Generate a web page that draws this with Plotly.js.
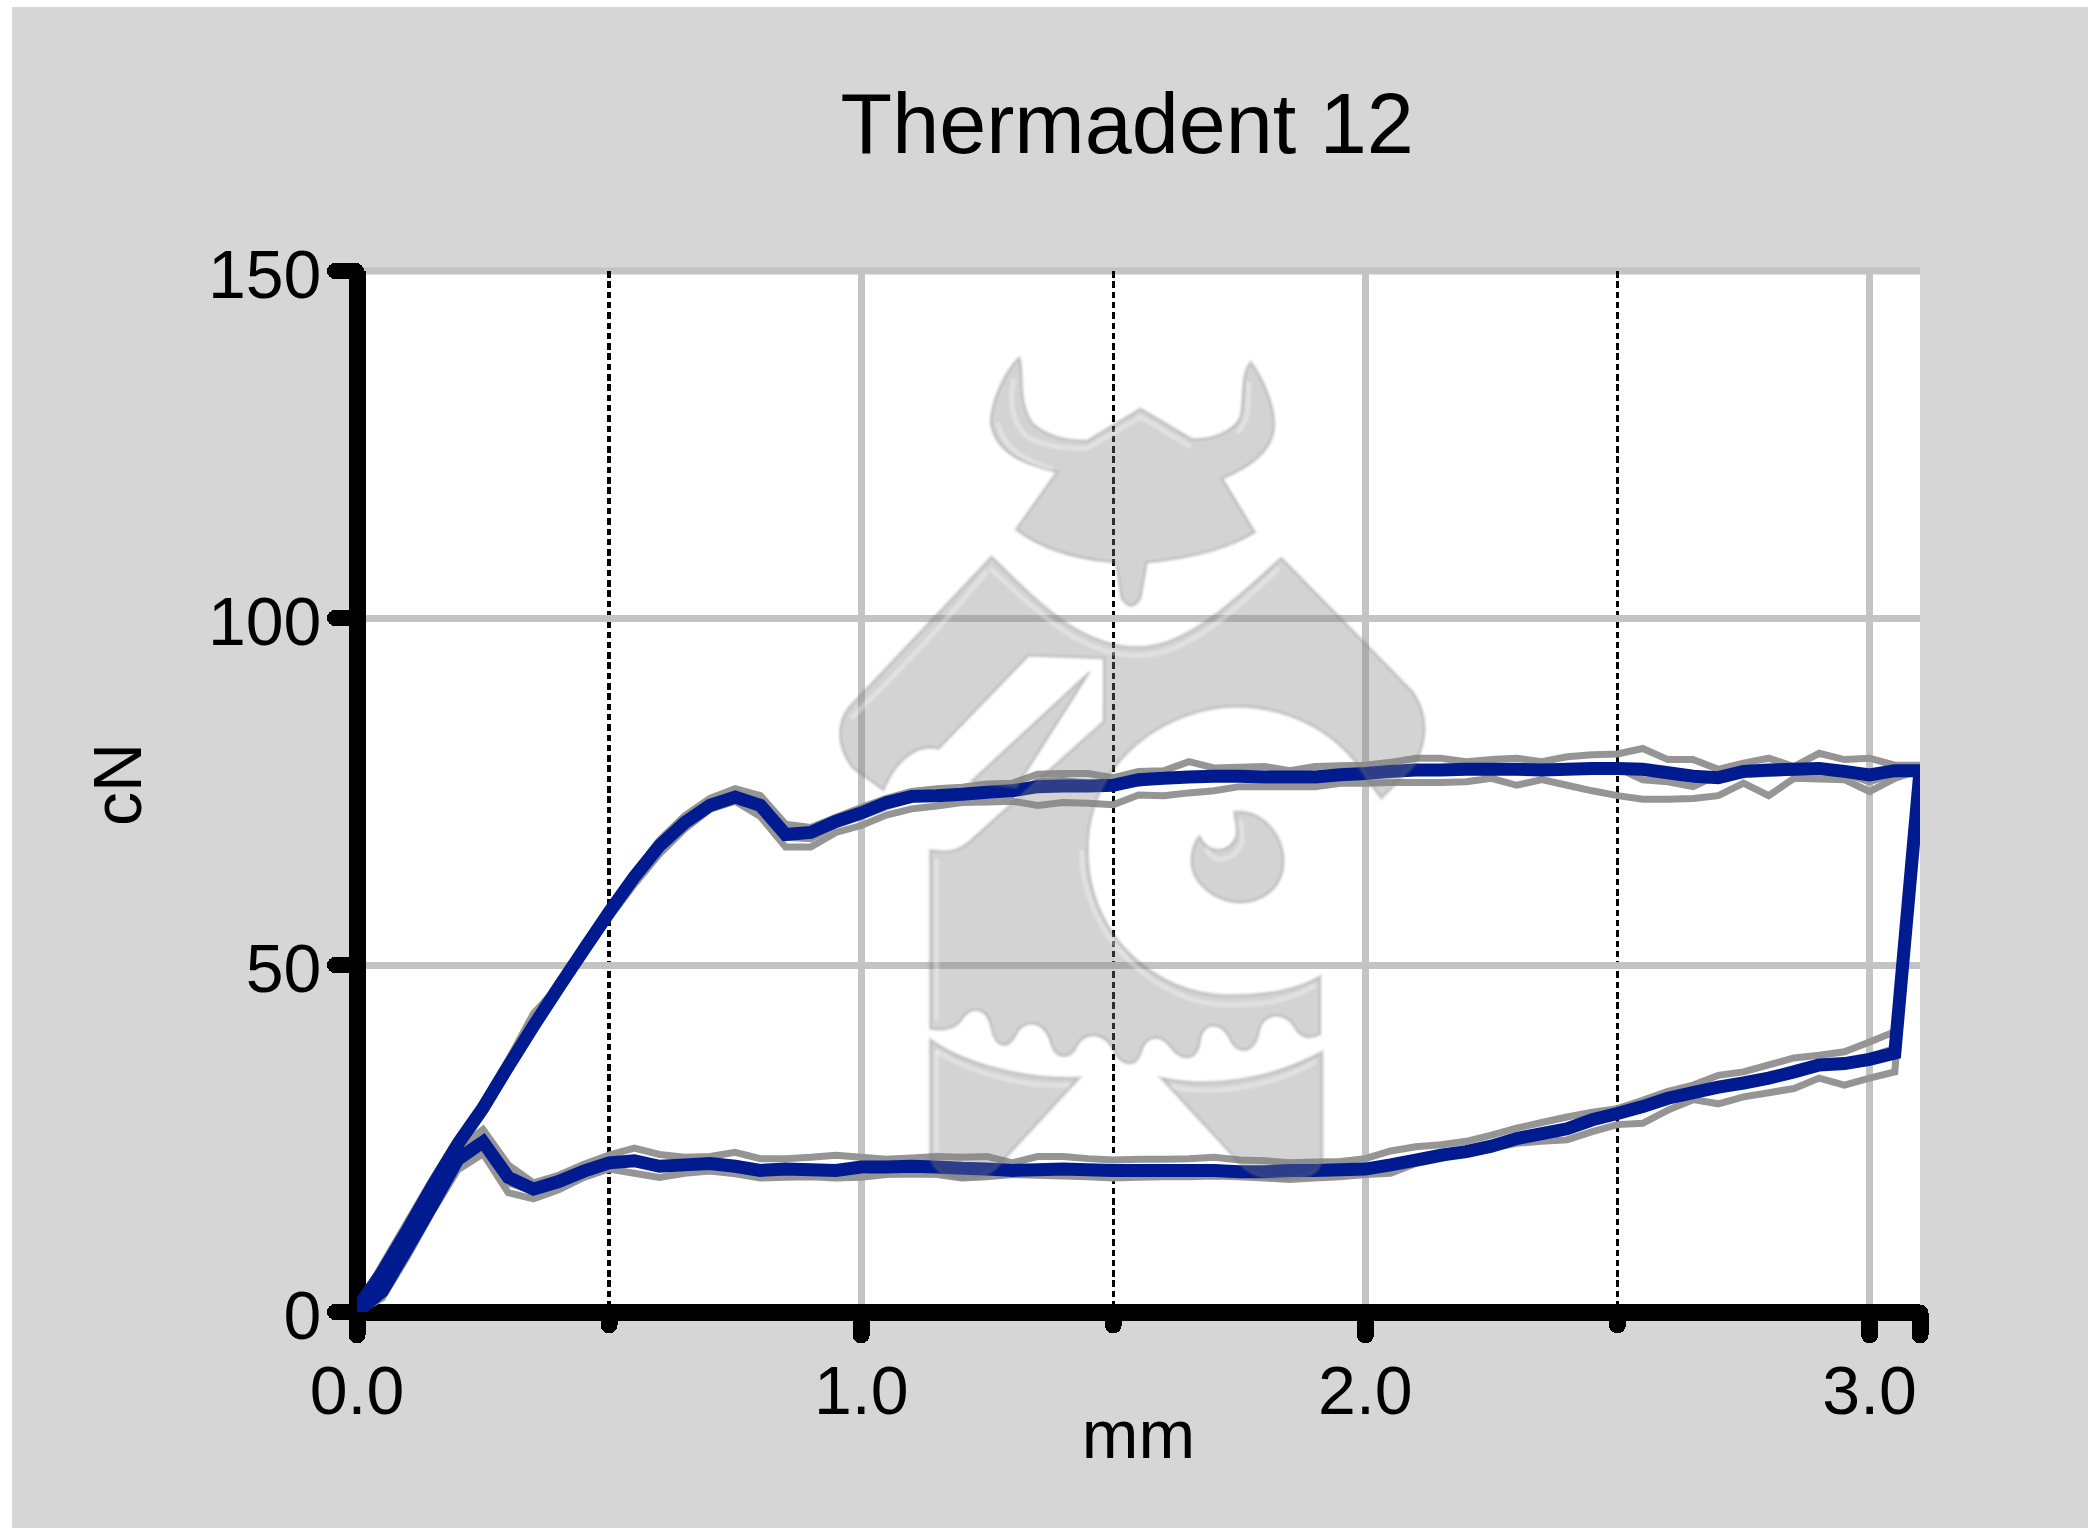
<!DOCTYPE html>
<html><head><meta charset="utf-8">
<script src="https://cdn.plot.ly/plotly-3.0.1.min.js"></script>
<style>
html,body{margin:0;padding:0;background:#fff;overflow:hidden}
#c{position:absolute;left:12px;top:7px;width:2076px;height:1521px}
.ticks{stroke-linecap:round}
.js-line{stroke-linejoin:miter !important}
.layer-above .shapelayer path{filter:blur(1px)}
.g-ytitle{transform:translateY(-7px)}
.g-xtitle{transform:translateY(-17px)}
</style></head><body><div id="c"></div>
<script>
const chartTitle = 'Thermadent 12';
const xLabel = 'mm', yLabel = 'cN';
const xMajor = [0,1,2,3,3.1], xMajorText = ['0.0','1.0','2.0','3.0',''];
const xMinor = [0.5,1.5,2.5];
const yMajor = [0,50,100,150];

const xLoad = [
 0,.05,.1,.15,.2,.25,.3,.35,.4,.45,
 .5,.55,.6,.65,.7,.75,.8,.85,.9,.95,
 1,1.05,1.1,1.15,1.2,1.25,1.3,1.35,1.4,1.45,
 1.5,1.55,1.6,1.65,1.7,1.75,1.8,1.85,1.9,1.95,
 2,2.05,2.1,2.15,2.2,2.25,2.3,2.35,2.4,2.45,
 2.5,2.55,2.6,2.65,2.7,2.75,2.8,2.85,2.9,2.95,
 3,3.05,3.1];
const xUnload = [
 3.05,3,2.95,2.9,2.85,2.8,2.75,2.7,2.65,2.6,
 2.55,2.5,2.45,2.4,2.35,2.3,2.25,2.2,2.15,2.1,
 2.05,2,1.95,1.9,1.85,1.8,1.75,1.7,1.65,1.6,
 1.55,1.5,1.45,1.4,1.35,1.3,1.25,1.2,1.15,1.1,
 1.05,1,.95,.9,.85,.8,.75,.7,.65,.6,
 .55,.5,.45,.4,.35,.3,.25,.2,.15,.1,
 .05,0];

const meanLoad = [
 .5,5.7,11.8,18.2,24.2,29.4,35.4,41.2,46.8,52.2,
 57.6,62.7,67.2,70.5,73,74.2,73,68.8,69.1,70.7,
 71.9,73.4,74.3,74.4,74.6,74.9,75.1,75.7,75.8,75.8,
 75.9,76.7,76.9,77.1,77.2,77.2,77.1,77.1,77.1,77.4,
 77.6,77.9,78.1,78.1,78.2,78.2,78.2,78.1,78.2,78.3,
 78.3,78.2,77.7,77.2,77,77.9,78.1,78.2,78.3,77.9,
 77.4,78,78];
const meanUnload = [
 37.3,36.4,35.8,35.6,34.6,33.7,33,32.4,31.6,30.8,
 29.6,28.6,27.7,26.4,25.7,25,23.9,23.1,22.6,21.9,
 21.2,20.6,20.5,20.4,20.4,20.2,20.2,20.4,20.4,20.4,
 20.4,20.4,20.5,20.6,20.5,20.4,20.6,20.7,20.9,21,
 20.9,20.9,20.4,20.5,20.6,20.4,21,21.4,21.2,21,
 21.8,21.5,20.3,18.8,17.7,19.4,24.5,22,15.5,9.2,
 3,0];

const run1Load = [
 .5,6.8,13,19.2,25,30.2,36.3,43,47,53,
 58,63.2,68,71.5,74,75.4,74.4,70.3,69.8,71.3,
 72.7,74,75,75.4,75.6,76.1,76.2,77.5,77.6,77.6,
 77,77.9,78,79.3,78.4,78.5,78.6,78,78.6,78.7,
 78.8,79.2,79.8,79.8,79.3,79.6,79.8,79.3,80,80.3,
 80.4,81.2,79.6,79.6,78.2,79.1,79.8,78.6,80.5,79.6,
 79.8,78.8,78.8];
const run1Unload = [
 40.4,38.9,37.5,37,36.6,35.6,34.6,34.1,32.7,31.8,
 30.5,29.3,28.8,28.1,27.3,26.5,25.5,24.6,24.1,23.8,
 23.2,22.1,21.7,21.6,21.5,21.8,21.9,22.3,22.1,22,
 22,21.9,22.1,22.4,22.4,21.5,22.4,22.3,22.4,22.2,
 22,22.3,22.6,22.3,22.1,22.1,23,22.4,22.3,22.7,
 23.6,22.6,21.3,19.7,18.6,21.2,26.3,23.5,16.5,10,
 3.8,0];

const run2Load = [
 0,4.6,10.8,17.2,23.4,28.6,34.8,40.6,46,51.6,
 56.8,61.6,66,69.6,72.4,73.6,71.4,67,67,69.1,
 70.1,71.6,72.5,72.9,73.4,73.5,73.6,73,73.4,73.3,
 73.1,74.5,74.4,74.8,75.1,75.7,75.7,75.7,75.7,76.2,
 76.2,76.3,76.3,76.3,76.4,76.9,75.9,76.7,75.9,75.1,
 74.4,73.9,73.9,74,74.4,76.2,74.4,76.9,76.8,76.7,
 75,76.9,78.1];
const run2Unload = [
 34.6,33.7,32.7,33.7,32.2,31.6,31,30,30.6,29.1,
 27.2,27,26,24.8,24.6,24.3,23.6,23.1,22.1,21.4,
 20,19.8,19.5,19.3,19.1,19.3,19.5,19.6,19.5,19.5,
 19.4,19.3,19.5,19.6,19.7,19.8,19.5,19.3,19.8,19.9,
 19.8,19.4,19.3,19.5,19.4,19.3,19.9,20.3,20,19.4,
 20,20.6,19.4,17.6,16.3,17.2,22.8,20.5,14.5,8,
 2,0];

const run3Load = [
 .2,5.4,11.6,18,24,29.2,35.4,41.8,46.8,52.2,
 57.4,62.7,67,70.2,72.8,74.6,73.2,68.4,68.2,70.2,
 71.4,72.8,73.9,74.2,74.8,75,74.6,76.4,76.6,76.2,
 75.6,76.2,76.7,76.8,77,76.9,77.2,76.8,76.9,77.2,
 77.5,77.4,77.8,77.8,78,77.7,78.6,78,78.4,78.6,
 78.4,76.7,76.4,75.7,77.4,77.4,77.6,77.8,78,77.6,
 76.4,77.6,78.2];
const run3Unload = [
 38,36.8,36,35.8,34.8,33.6,32.8,32.2,31.4,30.6,
 29.2,28.4,27.4,26.4,25.6,25.2,24,23.4,22.8,21.8,
 21,20.6,20.6,20.4,20.2,20.4,20.4,20.6,20.2,20.2,
 20.6,20.6,20.4,20.8,20.6,20.6,20.4,20.4,20.8,20.9,
 20.8,20.9,20.6,20.3,20.6,20.6,20.8,21.2,20.9,21.2,
 21.6,21.3,20.2,18.6,17.4,18.6,25,21.6,15,8.8,
 2.6,0];

// Watermark outline, traced in a 1568-unit frame over the plot
const logoFill = [
 'M488,32 C500,60 482,110 520,152 C560,178 610,184 655,183 L785,125 L910,180 C960,184 1015,165 1030,140 C1040,110 1030,60 1055,40 C1085,70 1115,120 1112,160 C1105,205 1050,232 985,252 L1065,350 C1000,380 900,398 800,405 L785,470 Q762,498 738,470 L725,405 C640,400 550,385 480,345 L580,240 C510,228 430,210 418,150 C420,105 460,50 488,32 Z',
 'M420,395 C500,450 620,560 780,560 C900,560 1020,470 1130,397 L1450,640 C1490,680 1490,730 1455,775 L1375,835 L1340,800 C1270,710 1140,668 1020,668 C860,668 655,760 655,930 C655,1090 830,1195 1000,1195 C1090,1195 1170,1185 1225,1160 L1225,1265 Q1185,1280 1165,1255 C1140,1220 1085,1225 1075,1260 C1065,1300 1025,1305 1005,1275 C985,1240 935,1240 930,1280 C920,1320 880,1310 860,1290 C830,1260 795,1270 785,1300 C770,1330 735,1320 720,1295 C695,1260 650,1260 630,1285 C610,1315 575,1310 565,1280 C550,1240 500,1235 480,1265 C460,1295 430,1290 420,1255 C410,1215 370,1210 345,1240 Q325,1262 270,1255 L270,930 C310,935 340,935 380,905 L695,695 L695,580 L510,575 L290,745 C250,735 190,755 155,820 L80,780 C40,740 40,700 70,670 Z',
 'M660,605 L370,805 L480,815 Z',
 'M930,905 C945,935 1000,940 1020,905 C1025,885 1015,870 1015,860 C1080,855 1135,900 1135,950 C1135,1000 1080,1025 1030,1025 C970,1025 910,990 910,950 C910,930 920,910 930,905 Z',
 'M270,1275 C330,1310 480,1350 635,1345 L430,1510 C400,1530 340,1535 300,1520 C280,1510 270,1495 270,1480 Z',
 'M835,1345 C950,1365 1100,1350 1230,1298 L1230,1490 C1225,1520 1200,1528 1130,1530 C1090,1530 1060,1522 1040,1510 Z'];
const logoGlints = [
 'M475,70 C462,110 470,150 505,175 C550,195 610,198 655,197 L785,140 L910,195',
 'M435,150 C450,200 500,218 570,235',
 'M1050,75 C1050,120 1050,150 1020,170',
 'M415,415 C500,470 620,575 780,575 C900,575 1020,490 1125,415',
 'M290,755 L515,590 L680,590',
 'M75,690 C200,600 300,520 410,420',
 'M285,945 L285,1240',
 'M1215,1175 C1150,1205 1090,1212 1000,1212 C830,1212 640,1090 640,930',
 'M285,1295 C340,1325 480,1365 610,1358',
 'M285,1295 L285,1480',
 'M860,1360 C950,1378 1100,1365 1215,1315',
 'M945,925 C960,955 1010,955 1035,915 L1030,875'];
const frameX = v => (820 + v/2.45 - 356.7)/1563.3;
const frameY = v => (1312 - (340 + v/1.823))/1041.3;
const toPaper = p => p.replace(/(-?[\d.]+),(-?[\d.]+)/g,(m,a,b)=>frameX(+a).toFixed(5)+','+frameY(+b).toFixed(5));

const logoShapes = [
 {type:'line',xref:'paper',yref:'paper',x0:0,x1:1,y0:1,y1:1,layer:'below',line:{color:'#c3c3c3',width:7}},
 ...logoFill.map(p=>({type:'path',xref:'paper',yref:'paper',layer:'above',path:toPaper(p),
   fillcolor:'rgba(129,129,129,0.35)',line:{color:'rgba(120,120,120,0.28)',width:3}})),
 ...logoGlints.map(p=>({type:'path',xref:'paper',yref:'paper',layer:'above',path:toPaper(p),
   fillcolor:'rgba(0,0,0,0)',line:{color:'rgba(255,255,255,0.32)',width:5}}))
];

const GRAY='#959595', BLUE='#001a8f';
const trace=(x,y,color,width)=>({x,y,type:'scatter',mode:'lines',cliponaxis:false,hoverinfo:'skip',showlegend:false,
  line:{color,width,shape:'linear',simplify:false}});
const loop=(a,b)=>a.concat(b);
const data=[
 trace(loop(xLoad,xUnload),loop(run1Load,run1Unload),GRAY,7),
 trace(loop(xLoad,xUnload),loop(run2Load,run2Unload),GRAY,7),
 trace(loop(xLoad,xUnload),loop(run3Load,run3Unload),GRAY,7),
 trace(loop(xLoad,xUnload),loop(meanLoad,meanUnload),BLUE,13)
];
const FONT='"Liberation Sans",Arial,sans-serif';
const layout={
 width:2076,height:1521,
 paper_bgcolor:'#d6d6d6',plot_bgcolor:'#ffffff',
 margin:{l:344.7,r:168,t:263.7,b:216,pad:0},
 showlegend:false,
 font:{family:FONT,color:'#000'},
 title:{text:chartTitle,font:{family:FONT,size:84.5,color:'#000'},xref:'paper',x:(1127-356.7)/1563.3,xanchor:'center',
        yref:'container',y:1-(123-7)/1521,yanchor:'middle'},
 xaxis:{range:[0,3.1],tickmode:'array',tickvals:xMajor,ticktext:xMajorText,automargin:true,
   showline:false,zeroline:true,zerolinecolor:'#000',zerolinewidth:17,
   showgrid:true,gridcolor:'#c3c3c3',gridwidth:7,
   ticks:'outside',ticklen:22,tickwidth:17,tickcolor:'#000',
   tickfont:{family:FONT,size:68,color:'#000'},ticklabelstandoff:-3,layer:'below traces',
   minor:{tickmode:'array',tickvals:xMinor,ticks:'outside',ticklen:12,tickwidth:17,tickcolor:'#000',
     showgrid:true,gridcolor:'#000',gridwidth:3.5,griddash:'6.5px,3.8px'},
   title:{text:xLabel,font:{family:FONT,size:68,color:'#000'},standoff:0}},
 yaxis:{range:[0,150],tickmode:'array',tickvals:yMajor,automargin:true,
   showline:false,zeroline:true,zerolinecolor:'#000',zerolinewidth:17,
   showgrid:true,gridcolor:'#c3c3c3',gridwidth:7,
   ticks:'outside',ticklen:21,tickwidth:16,tickcolor:'#000',
   tickfont:{family:FONT,size:68,color:'#000'},ticklabelshift:3,layer:'below traces',
   title:{text:yLabel,font:{family:FONT,size:68,color:'#000'},standoff:44}},
 shapes:logoShapes
};
Plotly.newPlot('c',data,layout,{displayModeBar:false,staticPlot:true});
</script></body></html>
